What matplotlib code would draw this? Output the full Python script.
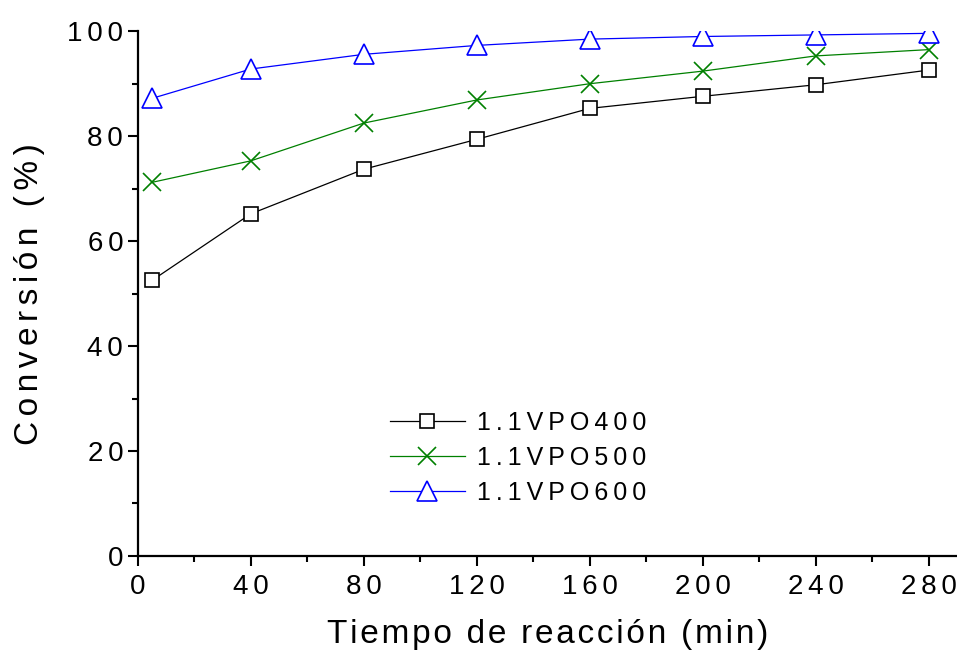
import matplotlib.pyplot as plt
from matplotlib.ticker import MultipleLocator, FuncFormatter

plt.rcParams['font.family'] = ['Liberation Sans', 'DejaVu Sans']

tiempo = [5, 40, 80, 120, 160, 200, 240, 280]
vpo400 = [52.5, 65.2, 73.7, 79.4, 85.3, 87.6, 89.8, 92.6]
vpo500 = [71.2, 75.3, 82.5, 86.9, 90.0, 92.4, 95.3, 96.5]
vpo600 = [87.2, 92.8, 95.6, 97.3, 98.5, 99.0, 99.3, 99.6]
nombres = ['1.1VPO400', '1.1VPO500', '1.1VPO600']


def espaciar(s, sep):
    # the original font is tracked wide; fake it with narrow spaces
    return sep.join(s)


HAIR = '\u200a'
THIN = '\u2009'

fig = plt.figure(figsize=(9.57, 6.51), dpi=100)
ax = fig.add_axes([0.144, 0.146, 0.856, 0.806])

ax.plot(tiempo, vpo400, '-', color='black', lw=0.9, marker='s', ms=10,
        mfc='white', mec='black', mew=1.2, label=espaciar(nombres[0], THIN))
ax.plot(tiempo, vpo500, '-', color='green', lw=0.9, marker='x', ms=13,
        mec='green', mew=1.2, label=espaciar(nombres[1], THIN))
ax.plot(tiempo, vpo600, '-', color='blue', lw=0.9, marker='^', ms=14,
        mfc='white', mec='blue', mew=1.2, label=espaciar(nombres[2], THIN))

ax.set_xlim(0, 290)
ax.set_ylim(0, 100)
ax.set_xticks(range(0, 281, 40))
ax.set_yticks(range(0, 101, 20))
ax.xaxis.set_minor_locator(MultipleLocator(20))
ax.yaxis.set_minor_locator(MultipleLocator(10))
fmt = FuncFormatter(lambda v, p: espaciar('%d' % v, HAIR * 2))
ax.xaxis.set_major_formatter(fmt)
ax.yaxis.set_major_formatter(fmt)
ax.spines['top'].set_visible(False)
ax.spines['right'].set_visible(False)
ax.spines['left'].set_linewidth(1.6)
ax.spines['bottom'].set_linewidth(1.6)
ax.tick_params(which='major', direction='out', length=7, width=1.5, labelsize=20)
ax.tick_params(axis='x', which='major', pad=6)
ax.tick_params(which='minor', direction='out', length=4, width=1.5)

ax.set_xlabel(espaciar('Tiempo de reacción (min)', HAIR), fontsize=24, labelpad=14)
ax.set_ylabel(espaciar('Conversión (%)', HAIR * 2), fontsize=24, labelpad=16)

ax.legend(loc='upper left', bbox_to_anchor=(0.28, 0.32), frameon=False,
          fontsize=18, handlelength=3.0, labelspacing=0.45, handletextpad=0.5)

fig.savefig('out.png', dpi=100)
